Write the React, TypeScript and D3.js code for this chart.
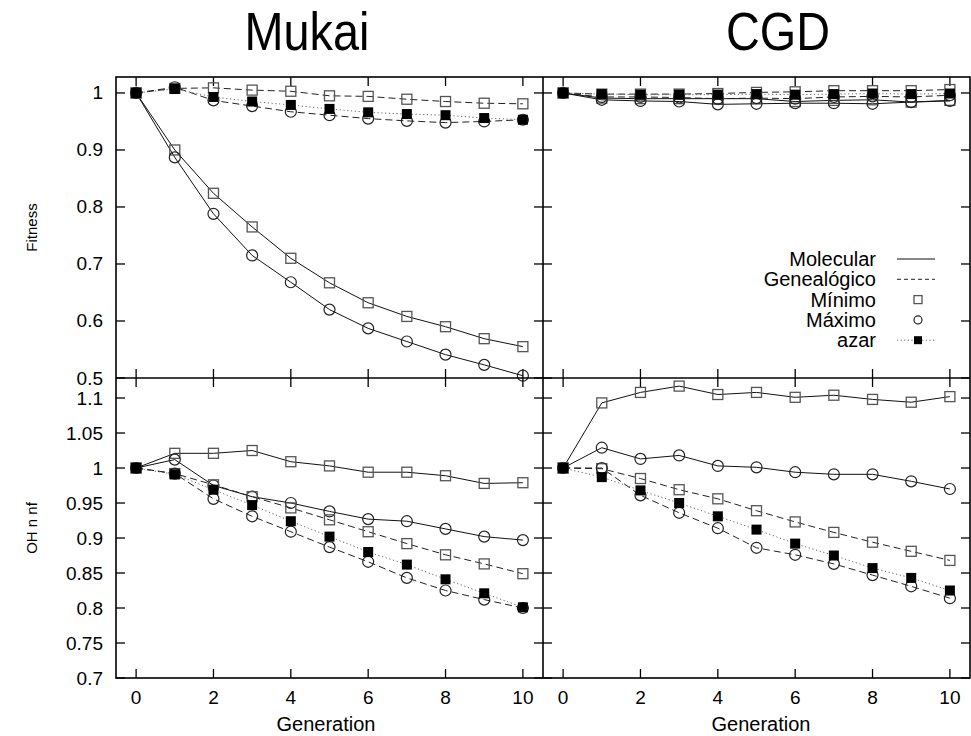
import React from "react";
import * as d3 from "d3";

const generations = [0, 1, 2, 3, 4, 5, 6, 7, 8, 9, 10];

// Fitness - Mukai
const mukaiFitMolMin = [1, 0.9, 0.824, 0.765, 0.71, 0.667, 0.632, 0.608, 0.59, 0.569, 0.555];
const mukaiFitMolMax = [1, 0.887, 0.788, 0.715, 0.668, 0.62, 0.587, 0.564, 0.541, 0.523, 0.504];
const mukaiFitGenMin = [1, 1.008, 1.009, 1.005, 1.003, 0.995, 0.994, 0.989, 0.985, 0.982, 0.981];
const mukaiFitGenMax = [1, 1.01, 0.987, 0.977, 0.967, 0.961, 0.955, 0.951, 0.948, 0.95, 0.953];
const mukaiFitAzar = [1, 1.007, 0.993, 0.985, 0.979, 0.972, 0.966, 0.963, 0.961, 0.956, 0.953];

// Fitness - CGD
const cgdFitMolMin = [1, 0.991, 0.99, 0.99, 0.99, 0.99, 0.985, 0.987, 0.988, 0.984, 0.987];
const cgdFitMolMax = [1, 0.988, 0.986, 0.985, 0.98, 0.981, 0.982, 0.982, 0.981, 0.984, 0.986];
const cgdFitGenMin = [1, 0.998, 0.998, 0.998, 0.999, 1.001, 1.002, 1.004, 1.004, 1.004, 1.006];
const cgdFitGenMax = [1, 0.993, 0.993, 0.992, 0.99, 0.991, 0.99, 0.993, 0.994, 0.993, 0.996];
const cgdFitAzar = [1, 0.998, 0.997, 0.997, 0.997, 0.998, 0.997, 0.998, 0.999, 0.998, 0.999];

// OH n nf - Mukai
const mukaiOhMolMin = [1, 1.021, 1.021, 1.025, 1.009, 1.003, 0.994, 0.994, 0.989, 0.978, 0.979];
const mukaiOhMolMax = [1, 1.012, 0.975, 0.959, 0.95, 0.938, 0.927, 0.924, 0.913, 0.902, 0.897];
const mukaiOhGenMin = [1, 0.992, 0.976, 0.959, 0.943, 0.926, 0.909, 0.892, 0.876, 0.863, 0.849];
const mukaiOhGenMax = [1, 0.992, 0.956, 0.931, 0.909, 0.887, 0.866, 0.843, 0.825, 0.812, 0.8];
const mukaiOhAzar = [1, 0.991, 0.969, 0.947, 0.924, 0.902, 0.88, 0.862, 0.841, 0.821, 0.801];

// OH n nf - CGD
const cgdOhMolMin = [1, 1.093, 1.108, 1.117, 1.105, 1.108, 1.101, 1.104, 1.098, 1.094, 1.102];
const cgdOhMolMax = [1, 1.029, 1.013, 1.018, 1.003, 1.001, 0.994, 0.991, 0.991, 0.981, 0.97];
const cgdOhGenMin = [1, 0.999, 0.985, 0.969, 0.956, 0.939, 0.923, 0.908, 0.894, 0.881, 0.868];
const cgdOhGenMax = [1, 1.0, 0.961, 0.936, 0.914, 0.886, 0.876, 0.863, 0.847, 0.831, 0.814];
const cgdOhAzar = [1, 0.987, 0.968, 0.95, 0.931, 0.912, 0.892, 0.875, 0.857, 0.843, 0.825];

const xTicks = [0, 2, 4, 6, 8, 10];
const fitTicks = [0.5, 0.6, 0.7, 0.8, 0.9, 1];
const fitTickLabels = ["0.5", "0.6", "0.7", "0.8", "0.9", "1"];
const ohTicks = [0.7, 0.75, 0.8, 0.85, 0.9, 0.95, 1, 1.05, 1.1];
const ohTickLabels = ["0.7", "0.75", "0.8", "0.85", "0.9", "0.95", "1", "1.05", "1.1"];

const titles = ["Mukai", "CGD"];
const legendLabels = ["Molecular", "Genealógico", "Mínimo", "Máximo", "azar"];

type Kind = "molMin" | "molMax" | "genMin" | "genMax" | "azar";

const FONT = "'Liberation Sans', Arial, Helvetica, sans-serif";

const styleOf = (k: Kind) => {
  if (k === "molMin" || k === "molMax") return { stroke: "#111", dash: "none", width: 1 };
  if (k === "genMin" || k === "genMax") return { stroke: "#222", dash: "7,4", width: 1 };
  return { stroke: "#666", dash: "1.2,2.6", width: 1 };
};

const Marker = ({ k, x, y, s = 10 }: { k: Kind; x: number; y: number; s?: number }) => {
  if (k === "molMin" || k === "genMin")
    return <rect x={x - s / 2} y={y - s / 2} width={s} height={s} fill="none" stroke="#555" strokeWidth={1.3} />;
  if (k === "molMax" || k === "genMax")
    return <circle cx={x} cy={y} r={s / 2 + 0.5} fill="none" stroke="#222" strokeWidth={1.2} />;
  return <rect x={x - s / 2} y={y - s / 2} width={s} height={s} fill="#000" />;
};

const L = 116, M = 543, R = 970, T = 77, MID = 378, B = 678;

const Panel = ({
  x0, x1, y0, y1, ydomain, series, yTicks, tickLen = 9,
}: {
  x0: number; x1: number; y0: number; y1: number; ydomain: [number, number];
  series: { k: Kind; v: number[] }[]; yTicks: number[]; tickLen?: number;
}) => {
  const xs = d3.scaleLinear().domain([-0.52, 10.52]).range([x0, x1]);
  const ys = d3.scaleLinear().domain(ydomain).range([y1, y0]);
  const line = d3.line<number>().x((_, i) => xs(generations[i])).y((d) => ys(d));
  return (
    <g>
      {xTicks.map((t) => (
        <g key={"xt" + t}>
          <line x1={xs(t)} x2={xs(t)} y1={y0} y2={y0 + tickLen} stroke="#000" strokeWidth={1.3} />
          <line x1={xs(t)} x2={xs(t)} y1={y1} y2={y1 - tickLen} stroke="#000" strokeWidth={1.3} />
        </g>
      ))}
      {yTicks.map((t) => (
        <g key={"yt" + t}>
          <line x1={x0} x2={x0 + tickLen} y1={ys(t)} y2={ys(t)} stroke="#000" strokeWidth={1.3} />
          <line x1={x1} x2={x1 - tickLen} y1={ys(t)} y2={ys(t)} stroke="#000" strokeWidth={1.3} />
        </g>
      ))}
      {series.map((s) => {
        const st = styleOf(s.k);
        return (
          <path key={"l" + s.k} d={line(s.v) || ""} fill="none" stroke={st.stroke}
            strokeWidth={st.width} strokeDasharray={st.dash} />
        );
      })}
      {series.map((s) =>
        s.v.map((v, i) => <Marker key={s.k + i} k={s.k} x={xs(generations[i])} y={ys(v)} />)
      )}
    </g>
  );
};

export default function App() {
  const fitDomain: [number, number] = [0.5, 1.028];
  const ohDomain: [number, number] = [0.7, 1.1286];
  const yFit = d3.scaleLinear().domain(fitDomain).range([MID, T]);
  const yOh = d3.scaleLinear().domain(ohDomain).range([B, MID]);
  const xl = d3.scaleLinear().domain([-0.52, 10.52]).range([L, M]);
  const xr = d3.scaleLinear().domain([-0.52, 10.52]).range([M, R]);

  const mk = (a: number[], b: number[], c: number[], d: number[], e: number[]) => [
    { k: "molMin" as Kind, v: a },
    { k: "molMax" as Kind, v: b },
    { k: "genMin" as Kind, v: c },
    { k: "genMax" as Kind, v: d },
    { k: "azar" as Kind, v: e },
  ];

  const legendKinds: { k: Kind | "mol" | "gen" }[] = [
    { k: "mol" }, { k: "gen" }, { k: "molMin" }, { k: "molMax" }, { k: "azar" },
  ];

  return (
    <svg width={971} height={736} style={{ position: "absolute", left: 0, top: 0, background: "#fff" }}
      fontFamily={FONT}>
      <rect x={0} y={0} width={971} height={736} fill="#fff" />
      <text x={307} y={50} fontSize={53} textAnchor="middle" textLength={125} lengthAdjust="spacingAndGlyphs">{titles[0]}</text>
      <text x={778} y={50} fontSize={53} textAnchor="middle" textLength={104} lengthAdjust="spacingAndGlyphs">{titles[1]}</text>

      <Panel x0={L} x1={M} y0={T} y1={MID} ydomain={fitDomain} yTicks={fitTicks}
        series={mk(mukaiFitMolMin, mukaiFitMolMax, mukaiFitGenMin, mukaiFitGenMax, mukaiFitAzar)} />
      <Panel x0={M} x1={R} y0={T} y1={MID} ydomain={fitDomain} yTicks={fitTicks}
        series={mk(cgdFitMolMin, cgdFitMolMax, cgdFitGenMin, cgdFitGenMax, cgdFitAzar)} />
      <Panel x0={L} x1={M} y0={MID} y1={B} ydomain={ohDomain} yTicks={ohTicks}
        series={mk(mukaiOhMolMin, mukaiOhMolMax, mukaiOhGenMin, mukaiOhGenMax, mukaiOhAzar)} />
      <Panel x0={M} x1={R} y0={MID} y1={B} ydomain={ohDomain} yTicks={ohTicks}
        series={mk(cgdOhMolMin, cgdOhMolMax, cgdOhGenMin, cgdOhGenMax, cgdOhAzar)} />

      {/* frames */}
      <rect x={L} y={T} width={R - L} height={B - T} fill="none" stroke="#000" strokeWidth={1.6} />
      <line x1={M} x2={M} y1={T} y2={B} stroke="#000" strokeWidth={1.6} />
      <line x1={L} x2={R} y1={MID} y2={MID} stroke="#000" strokeWidth={1.6} />

      {/* y tick labels */}
      {fitTicks.map((t, i) => (
        <text key={"fl" + t} x={103} y={yFit(t) + 6.5} fontSize={19} textAnchor="end">{fitTickLabels[i]}</text>
      ))}
      {ohTicks.map((t, i) => (
        <text key={"ol" + t} x={103} y={yOh(t) + 6.5} fontSize={19} textAnchor="end">{ohTickLabels[i]}</text>
      ))}
      {/* x tick labels */}
      {xTicks.map((t) => (
        <text key={"xl" + t} x={xl(t)} y={704} fontSize={19} textAnchor="middle">{t}</text>
      ))}
      {xTicks.map((t) => (
        <text key={"xr" + t} x={xr(t)} y={704} fontSize={19} textAnchor="middle">{t}</text>
      ))}

      <text x={326} y={731} fontSize={20} textAnchor="middle">Generation</text>
      <text x={761} y={731} fontSize={20} textAnchor="middle">Generation</text>
      <text transform={`translate(37,${(T + MID) / 2}) rotate(-90)`} fontSize={15} textAnchor="middle">Fitness</text>
      <text transform={`translate(37,${(MID + B) / 2}) rotate(-90)`} fontSize={15} textAnchor="middle">OH n nf</text>

      {/* legend */}
      {legendLabels.map((lab, i) => {
        const y = 259 + i * 20.3;
        const k = legendKinds[i].k;
        return (
          <g key={"lg" + i}>
            <text x={876} y={y + 7} fontSize={20} textAnchor="end">{lab}</text>
            {k === "mol" && <line x1={897} x2={935} y1={y} y2={y} stroke="#111" strokeWidth={1} />}
            {k === "gen" && <line x1={897} x2={935} y1={y} y2={y} stroke="#222" strokeWidth={1} strokeDasharray="4,3" />}
            {k === "molMin" && <Marker k="molMin" x={918} y={y} s={8} />}
            {k === "molMax" && <Marker k="molMax" x={918} y={y} s={7} />}
            {k === "azar" && (
              <g>
                <line x1={897} x2={935} y1={y} y2={y} stroke="#666" strokeWidth={1} strokeDasharray="1.2,2.4" />
                <Marker k="azar" x={918} y={y} s={8} />
              </g>
            )}
          </g>
        );
      })}
    </svg>
  );
}
